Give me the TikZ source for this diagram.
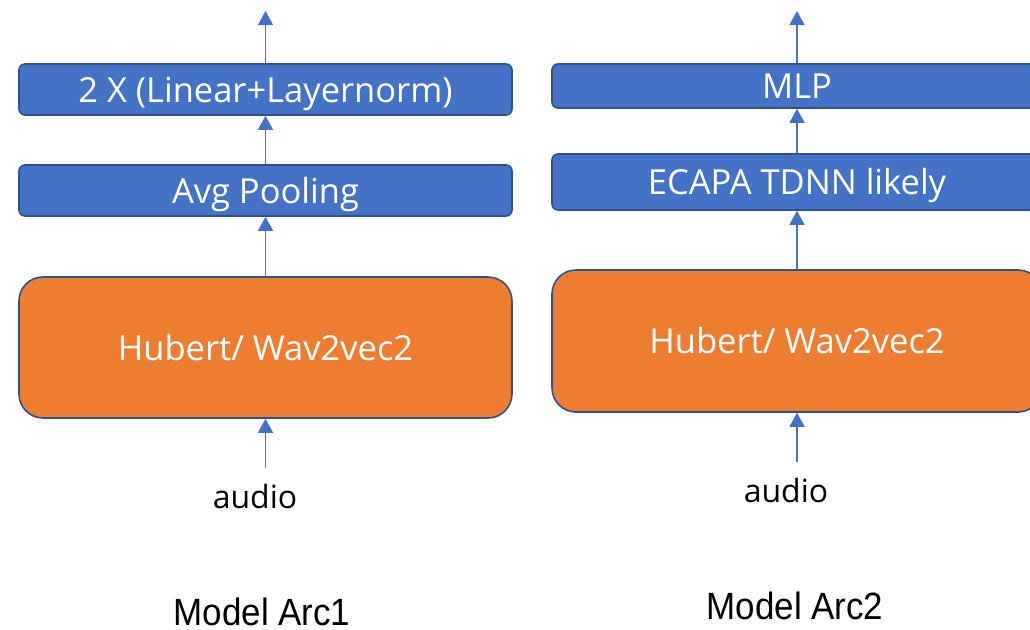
\documentclass[tikz,border=0pt]{standalone}
\usepackage{fontspec}
\setmainfont{Open Sans}
\newfontfamily\capfont[FakeStretch=0.92]{Liberation Sans}
\usetikzlibrary{arrows.meta}
\definecolor{boxblue}{HTML}{4472C4}
\definecolor{edgeblue}{HTML}{2F528F}
\definecolor{boxorange}{HTML}{ED7D31}
\begin{document}
\begin{tikzpicture}[x=1pt,y=-1pt,
  layerbox/.style={draw=edgeblue, line width=1.6pt, fill=boxblue, rounded corners=6pt,
    text=white, font=\fontsize{34.5}{40}\selectfont, inner sep=0pt,
    text height=25pt, text depth=0pt},
  encbox/.style={draw=edgeblue, line width=1.6pt, fill=boxorange, rounded corners=24pt,
    text=white, font=\fontsize{34.5}{40}\selectfont, inner sep=0pt,
    text height=25pt, text depth=0pt},
  arr/.style={draw=boxblue, line width=1.3pt, -{Triangle[width=15pt,length=14pt]}},
  audiolbl/.style={font=\fontsize{32}{38}\selectfont, text=black, anchor=base, inner sep=0pt},
  caplbl/.style={font=\capfont\fontsize{38}{44}\selectfont, text=black, anchor=base, inner sep=0pt}
]
\useasboundingbox (0,0) rectangle (1030,629);

% Left column
\node[layerbox, minimum width=493pt, minimum height=51pt] (lin1) at (265.5,89.5) {2 X (Linear+Layernorm)};
\node[layerbox, minimum width=493pt, minimum height=51pt] (avg1) at (265.5,190.5) {Avg Pooling};
\node[encbox, minimum width=493pt, minimum height=141pt] (hub1) at (265.5,347.5) {Hubert/ Wav2vec2};
\node[audiolbl] (aud1) at (255,508) {audio};
\node[caplbl] (cap1) at (262,625) {Model Arc1};
\coordinate (out1) at (265.5,11);
\coordinate (in1) at (265.5,468);

\draw[arr] (in1) -- (hub1.south);
\draw[arr] (hub1.north) -- (avg1.south);
\draw[arr] (avg1.north) -- (lin1.south);
\draw[arr] (lin1.north) -- (out1);

% Right column
\node[layerbox, minimum width=490pt, minimum height=44pt] (mlp2) at (797,86) {MLP};
\node[layerbox, minimum width=490pt, minimum height=56pt] (eca2) at (797,182) {ECAPA TDNN likely};
\node[encbox, minimum width=490pt, minimum height=142pt] (hub2) at (797,341) {Hubert/ Wav2vec2};
\node[audiolbl] (aud2) at (786,502) {audio};
\node[caplbl] (cap2) at (795,619) {Model Arc2};
\coordinate (out2) at (797,11);
\coordinate (in2) at (797,462);

\draw[arr] (in2) -- (hub2.south);
\draw[arr] (hub2.north) -- (eca2.south);
\draw[arr] (eca2.north) -- (mlp2.south);
\draw[arr] (mlp2.north) -- (out2);
\end{tikzpicture}
\end{document}
